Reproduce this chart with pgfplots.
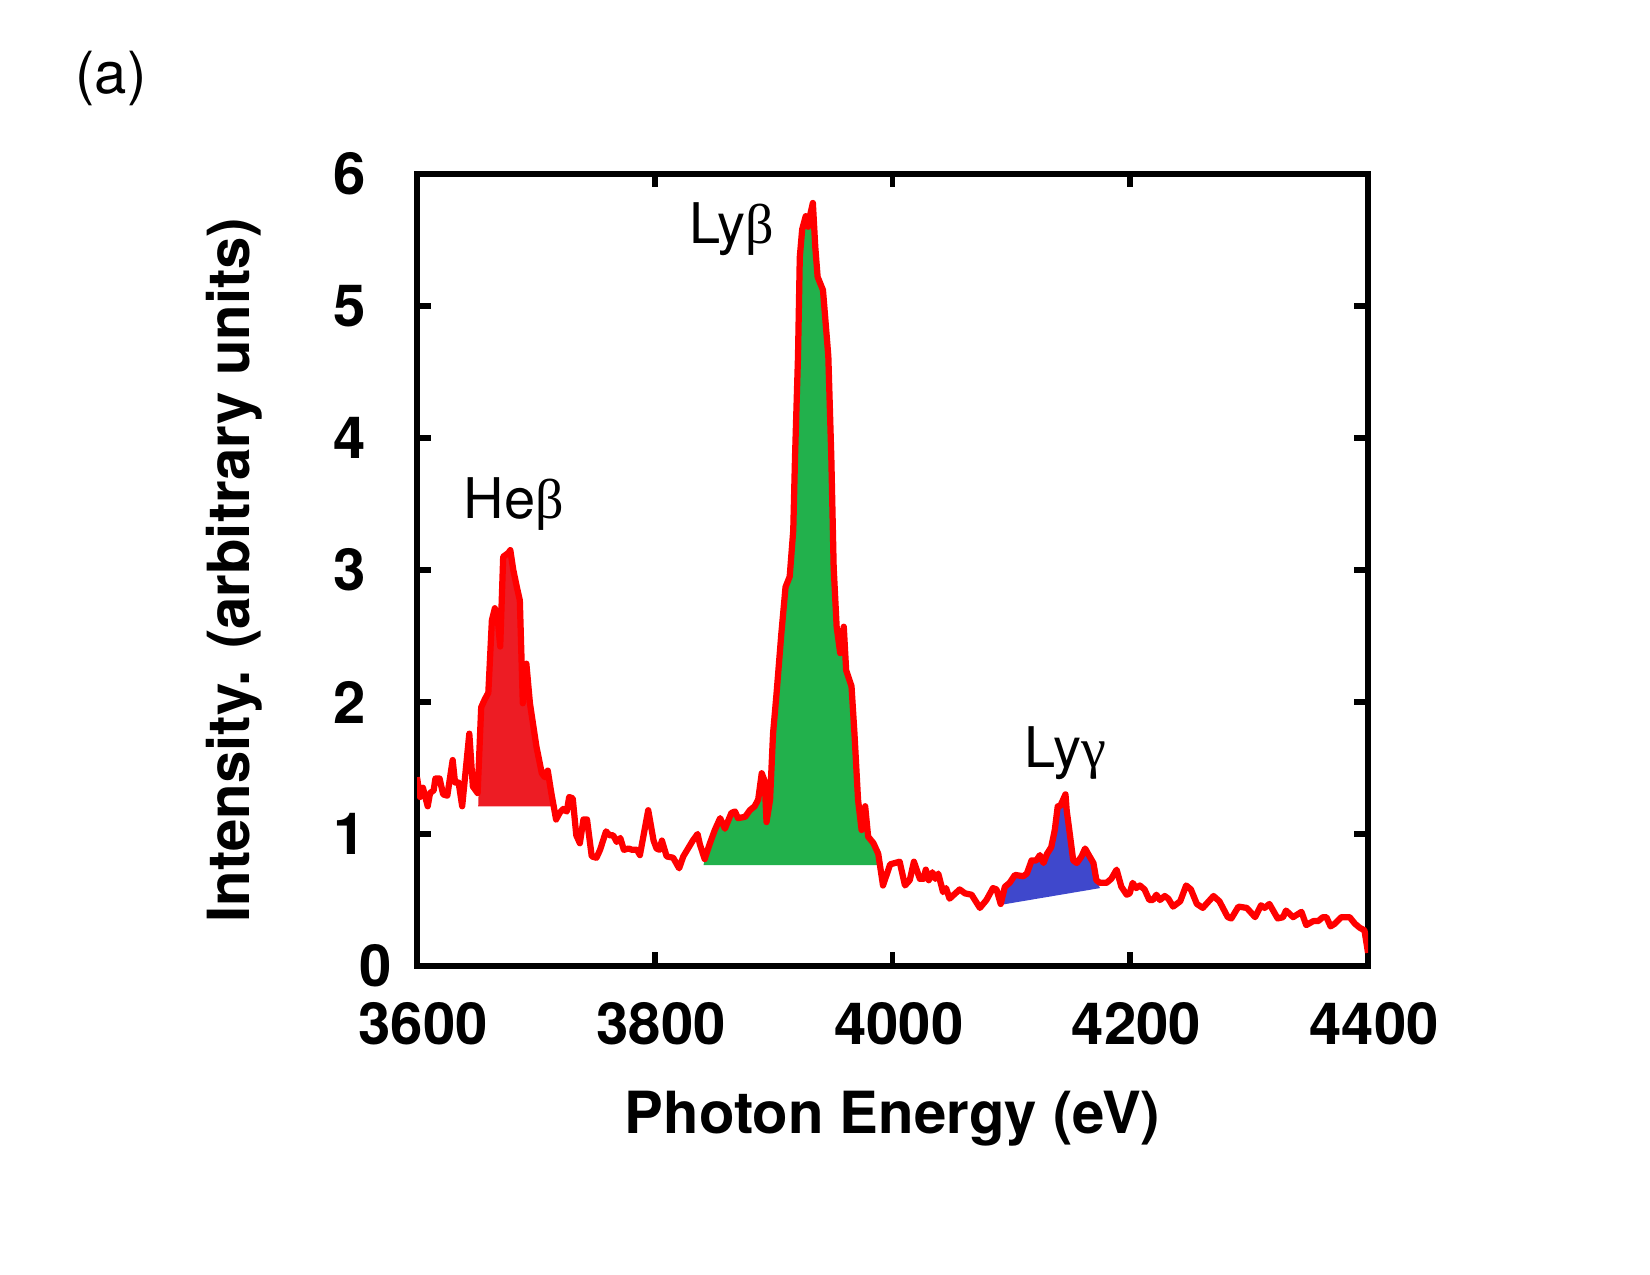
\documentclass[border=0pt]{standalone}
\usepackage{fontspec}
\setmainfont{TeX Gyre Heros}
\newfontfamily\grk{Liberation Serif}
\usepackage{pgfplots}
\pgfplotsset{compat=1.18}
\usepackage{pgfplotstable}

\definecolor{curvered}{HTML}{FF0000}
\definecolor{hefill}{HTML}{ED1C24}
\definecolor{lybfill}{HTML}{22B14C}
\definecolor{lygfill}{HTML}{3F48CC}

% measured spectrum
\pgfplotstableread{
E I
3600 1.43
3602.5 1.28
3605 1.35
3609 1.21
3611 1.31
3614 1.33
3615.5 1.42
3619 1.42
3622 1.30
3625.5 1.29
3630 1.56
3632 1.39
3635 1.39
3638 1.21
3644 1.76
3647 1.36
3651 1.31
3654 1.96
3657 2.02
3660 2.07
3663 2.62
3665.5 2.71
3668 2.62
3670 2.42
3672.5 3.10
3677 3.13
3678.5 3.15
3681 3.00
3684 2.87
3686.5 2.77
3689 1.99
3692 2.29
3695 1.99
3698 1.81
3700.5 1.66
3705 1.46
3707.5 1.43
3710 1.48
3713 1.31
3717 1.11
3720 1.16
3723 1.19
3726 1.17
3728 1.28
3731 1.27
3734 0.99
3737 0.93
3740 1.11
3743 1.11
3747 0.83
3751 0.82
3754 0.88
3759 1.02
3762 0.99
3765 0.99
3768 0.94
3771 0.97
3774 0.88
3778 0.89
3781 0.88
3785 0.88
3787.5 0.84
3794.5 1.18
3799 0.95
3801.5 0.89
3804 0.88
3806 0.95
3810 0.83
3815.5 0.82
3820.5 0.74
3824 0.83
3828 0.89
3832 0.95
3836 1.00
3838 0.92
3842 0.81
3846 0.92
3850.5 1.03
3855 1.12
3859 1.04
3864.5 1.16
3867.5 1.17
3870 1.12
3876 1.13
3880 1.18
3884 1.21
3887 1.26
3890 1.46
3892.5 1.40
3894 1.09
3897 1.26
3899.5 1.76
3902.5 2.07
3906.5 2.52
3910 2.87
3913.5 2.95
3916.5 3.30
3918 3.86
3920.5 4.62
3922 5.37
3924 5.58
3927 5.68
3929 5.60
3931 5.70
3933 5.78
3935 5.45
3937 5.22
3941.5 5.12
3946 4.62
3948.5 3.86
3950.5 3.02
3953 2.57
3956 2.37
3959 2.57
3961 2.24
3965.5 2.12
3968 1.76
3971 1.26
3974 1.03
3977 1.21
3979.5 0.98
3984 0.93
3988 0.85
3992 0.61
3998 0.77
4006 0.79
4010.5 0.61
4014.5 0.65
4018 0.79
4023 0.66
4026 0.66
4028 0.73
4030.5 0.65
4033.5 0.71
4036 0.66
4038.5 0.70
4042.5 0.56
4045 0.59
4048 0.51
4056.5 0.58
4061 0.55
4066.5 0.54
4073.5 0.44
4079 0.50
4084.5 0.59
4087.5 0.58
4091 0.47
4094.5 0.60
4098.5 0.63
4103 0.69
4110 0.68
4113 0.70
4117 0.80
4121 0.80
4124 0.84
4127 0.78
4130 0.85
4133.5 0.90
4136.5 1.03
4139 1.21
4141 1.21
4145.5 1.30
4146.5 1.18
4149 1.01
4152 0.80
4155 0.78
4159 0.83
4162 0.89
4164.5 0.85
4169 0.78
4171.5 0.65
4174.5 0.63
4180 0.63
4184 0.66
4188.5 0.73
4192.5 0.60
4197 0.54
4199.5 0.55
4202 0.63
4205 0.59
4208 0.61
4212 0.58
4216 0.50
4219 0.50
4222 0.54
4225 0.50
4229 0.53
4232 0.51
4236 0.45
4242 0.49
4247 0.61
4251 0.58
4256 0.47
4261 0.44
4270 0.53
4275 0.49
4282 0.37
4285 0.36
4291 0.45
4298 0.44
4305 0.37
4310 0.46
4313 0.44
4317 0.47
4324 0.36
4328.5 0.37
4331 0.42
4337 0.37
4344 0.41
4348 0.31
4354 0.34
4358 0.34
4362 0.37
4365 0.37
4368.5 0.30
4372 0.32
4377.5 0.37
4384.5 0.37
4389 0.32
4393 0.29
4397 0.27
4400 0.10
}\spectrum

% He-beta line area above its local background
\pgfplotstableread{
E I
3651.5 1.21
3654 1.96
3657 2.02
3660 2.07
3663 2.62
3665.5 2.71
3668 2.62
3670 2.42
3672.5 3.10
3677 3.13
3678.5 3.15
3681 3.00
3684 2.87
3686.5 2.77
3689 1.99
3692 2.29
3695 1.99
3698 1.81
3700.5 1.66
3705 1.46
3707.5 1.43
3710 1.48
3713 1.31
3713 1.21
}\hebeta

% Ly-beta line area
\pgfplotstableread{
E I
3841 0.765
3842 0.81
3846 0.92
3850.5 1.03
3855 1.12
3859 1.04
3864.5 1.16
3867.5 1.17
3870 1.12
3876 1.13
3880 1.18
3884 1.21
3887 1.26
3890 1.46
3892.5 1.40
3894 1.09
3897 1.26
3899.5 1.76
3902.5 2.07
3906.5 2.52
3910 2.87
3913.5 2.95
3916.5 3.30
3918 3.86
3920.5 4.62
3922 5.37
3924 5.58
3927 5.68
3929 5.60
3931 5.70
3933 5.78
3935 5.45
3937 5.22
3941.5 5.12
3946 4.62
3948.5 3.86
3950.5 3.02
3953 2.57
3956 2.37
3959 2.57
3961 2.24
3965.5 2.12
3968 1.76
3971 1.26
3974 1.03
3977 1.21
3979.5 0.98
3984 0.93
3987 0.87
3987 0.765
}\lybeta

% Ly-gamma line area over a sloping background
\pgfplotstableread{
E I
4089 0.46
4094.5 0.60
4098.5 0.63
4103 0.69
4110 0.68
4113 0.70
4117 0.80
4121 0.80
4124 0.84
4127 0.78
4130 0.85
4133.5 0.90
4136.5 1.03
4139 1.21
4141 1.21
4145.5 1.30
4146.5 1.18
4149 1.01
4152 0.80
4155 0.78
4159 0.83
4162 0.89
4164.5 0.85
4169 0.78
4171.5 0.65
4174.5 0.59
}\lygamma

\begin{document}
\begin{tikzpicture}
\path[use as bounding box] (0,0) rectangle (792bp,612bp);
\node[anchor=base west, font=\fontsize{28}{30}\selectfont, inner sep=0pt] at (36bp,567bp) {(a)};
\begin{axis}[
  at={(200.16bp,148.32bp)}, anchor=south west,
  scale only axis, width=456.5bp, height=380.2bp,
  xmin=3600, xmax=4400, ymin=0, ymax=6,
  xtick={3600,3800,4000,4200,4400},
  ytick={1,2,3,4,5,6},
  extra y ticks={0},
  extra y tick style={yticklabel style={xshift=12.5bp}},
  tick align=inside,
  major tick length=6.5bp,
  major tick style={line width=2.7bp, black},
  axis line style={line width=2.9bp, black},
  /pgf/number format/assume math mode=true,
  /pgf/number format/1000 sep={},
  tick label style={font=\fontsize{28}{30}\selectfont\bfseries},
  xticklabel style={yshift=-14bp, xshift=3bp},
  yticklabel style={xshift=-21bp},
  xlabel={Photon Energy (eV)},
  ylabel={Intensity. (arbitrary units)},
  label style={font=\fontsize{28}{30}\selectfont\bfseries},
  xlabel style={at={(axis description cs:0.5,-0.212)}, anchor=base},
  ylabel style={at={(axis description cs:-0.1757,0.5)}, anchor=base},
]
\addplot[fill=hefill, draw=none] table[x=E, y=I] {\hebeta};
\addplot[fill=lybfill, draw=none] table[x=E, y=I] {\lybeta};
\addplot[fill=lygfill, draw=none] table[x=E, y=I] {\lygamma};
\addplot[curvered, line width=3bp, line join=round, no markers] table[x=E, y=I] {\spectrum};

\node[anchor=base, font=\fontsize{27}{30}\selectfont] at (axis cs:3681.6,3.39) {He{\grk β}};
\node[anchor=base, font=\fontsize{27}{30}\selectfont] at (axis cs:3864.5,5.47) {Ly{\grk β}};
\node[anchor=base, font=\fontsize{27}{30}\selectfont] at (axis cs:4145.4,1.50) {Ly{\grk γ}};
\end{axis}
\end{tikzpicture}
\end{document}
